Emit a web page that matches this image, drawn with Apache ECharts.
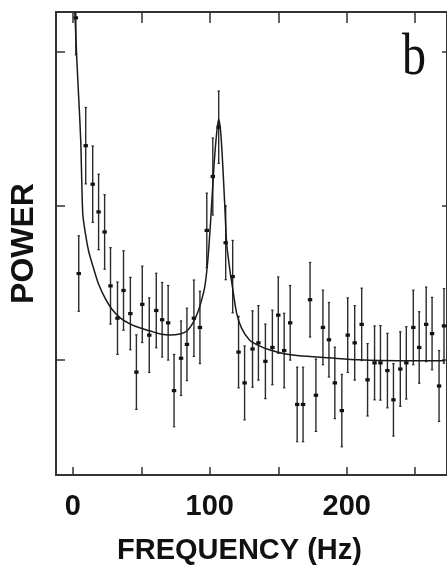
<!DOCTYPE html>
<html><head><meta charset="utf-8">
<script src="https://cdn.jsdelivr.net/npm/echarts@6/dist/echarts.min.js"></script>
<style>html,body{margin:0;padding:0;background:#fff;} #c{width:447px;height:570px;}</style>
</head><body><div id="c"></div>
<script>
// Measured power-spectrum points (frequency in Hz, power in arbitrary units)
const freq = [2.2,4.3,9.4,14.5,18.8,23.2,27.5,32.6,37.0,42.0,46.4,50.7,55.8,60.9,65.2,69.6,73.9,79.0,83.3,88.4,92.8,97.8,102.2,106.5,111.6,116.7,121.0,125.4,131.2,135.5,140.6,145.7,150.0,154.3,158.7,163.8,168.1,173.2,177.5,182.6,187.0,191.3,196.4,200.7,205.8,210.9,215.2,220.3,224.6,229.7,234.1,239.1,243.5,248.6,252.9,258.0,262.3,267.4,271.0];
const power = [3.22,1.56,2.39,2.14,1.96,1.83,1.48,1.27,1.45,1.30,0.92,1.36,1.16,1.32,1.26,1.24,0.80,1.01,1.10,1.27,1.21,1.84,2.19,2.51,1.76,1.54,1.05,0.85,1.07,1.11,0.99,1.08,1.29,1.06,1.24,0.71,0.71,1.39,0.77,1.21,1.13,0.85,0.67,1.16,1.11,1.23,0.87,0.98,0.98,0.93,0.74,0.94,0.98,1.21,1.08,1.23,1.17,0.83,1.22];
const powerErr = [0.24,0.245,0.248,0.248,0.245,0.242,0.248,0.235,0.258,0.235,0.242,0.248,0.242,0.242,0.242,0.242,0.235,0.242,0.235,0.248,0.235,0.242,0.25,0.235,0.24,0.235,0.232,0.24,0.248,0.242,0.242,0.242,0.248,0.242,0.242,0.242,0.242,0.242,0.235,0.242,0.242,0.232,0.235,0.242,0.242,0.235,0.235,0.24,0.242,0.242,0.235,0.242,0.235,0.242,0.232,0.242,0.235,0.23,0.242];
// Fitted model curve
const fitFreq = [1.45,2.9,4.35,5.8,7.25,9.42,11.59,14.49,18.84,23.91,28.99,34.78,42.03,49.28,56.52,63.77,71.01,78.26,83.33,87.68,91.3,94.2,96.38,98.55,100.72,102.9,105.07,106.52,107.97,109.42,110.87,112.32,114.49,116.67,119.57,123.19,128.99,136.23,143.48,154.35,165.22,186.96,208.7,237.68,271.74];
const fitPower = [3.258,2.948,2.69,2.413,1.948,1.806,1.703,1.613,1.49,1.394,1.323,1.271,1.232,1.206,1.187,1.168,1.161,1.168,1.187,1.239,1.31,1.394,1.477,1.645,1.916,2.239,2.477,2.561,2.477,2.271,2.013,1.755,1.594,1.465,1.303,1.206,1.129,1.09,1.065,1.039,1.026,1.013,1.0,0.994,0.994];
const xTicks = [0,50,100,150,200,250];
const xLabels = [0,100,200];
const yTicks = [1,2,3];

const chart = echarts.init(document.getElementById('c'), null, {renderer:'canvas'});
const axisCol = '#333';
const labelFont = 'Liberation Sans';
chart.setOption({
  animation:false,
  backgroundColor:'#fff',
  grid:{left:55, top:12, right:-2, bottom:92, containLabel:false},
  xAxis:[{
    type:'value', position:'bottom', min:-12.3, max:273.2,
    axisLine:{show:true, onZero:false, lineStyle:{color:axisCol, width:2}},
    axisTick:{show:true, inside:true, length:8, customValues:xTicks, lineStyle:{color:axisCol, width:1.5}},
    axisLabel:{show:true, customValues:xLabels, margin:17, color:'#111', fontFamily:labelFont, fontWeight:'bold', fontSize:29},
    splitLine:{show:false},
    name:'FREQUENCY (Hz)', nameLocation:'middle', nameGap:61,
    nameTextStyle:{color:'#111', fontFamily:labelFont, fontWeight:'bold', fontSize:29, padding:[0,24,0,0]}
  },{
    type:'value', position:'top', min:-12.3, max:273.2,
    axisLine:{show:true, onZero:false, lineStyle:{color:axisCol, width:2}},
    axisTick:{show:true, inside:true, length:11, customValues:xTicks, lineStyle:{color:axisCol, width:1.5}},
    axisLabel:{show:false}, splitLine:{show:false}
  }],
  yAxis:[{
    type:'value', position:'left', min:0.252, max:3.258,
    axisLine:{show:true, onZero:false, lineStyle:{color:axisCol, width:2}},
    axisTick:{show:true, inside:true, length:9, customValues:yTicks, lineStyle:{color:axisCol, width:1.5}},
    axisLabel:{show:false}, splitLine:{show:false},
    name:'POWER', nameLocation:'middle', nameGap:16,
    nameTextStyle:{color:'#111', fontFamily:labelFont, fontWeight:'bold', fontSize:32}
  },{
    type:'value', position:'right', min:0.252, max:3.258,
    axisLine:{show:true, onZero:false, lineStyle:{color:axisCol, width:2}},
    axisTick:{show:true, inside:true, length:5, customValues:yTicks, lineStyle:{color:axisCol, width:1.5}},
    axisLabel:{show:false}, splitLine:{show:false}
  }],
  graphic:[{
    type:'text', x:402, y:28, scaleY:1.25,
    style:{text:'b', font:'normal 48px "Liberation Serif"', fill:'#111', verticalAlign:'top'}
  }],
  series:[{
    type:'custom', xAxisIndex:0, yAxisIndex:0, clip:true,
    data: freq.map((f,i)=>[f, power[i], powerErr[i]]),
    encode:{x:0, y:1},
    renderItem:function(params, api){
      const x = api.value(0), y = api.value(1), e = api.value(2);
      const t = api.coord([x, y+e]), b = api.coord([x, y-e]), c = api.coord([x, y]);
      return {type:'group', children:[
        {type:'line', shape:{x1:t[0], y1:t[1], x2:b[0], y2:b[1]}, style:{stroke:'#2b2b2b', lineWidth:1.4}},
        {type:'line', shape:{x1:t[0]-1.2, y1:t[1], x2:t[0]+1.2, y2:t[1]}, style:{stroke:'#2b2b2b', lineWidth:1.2}},
        {type:'line', shape:{x1:b[0]-1.2, y1:b[1], x2:b[0]+1.2, y2:b[1]}, style:{stroke:'#2b2b2b', lineWidth:1.2}},
        {type:'rect', shape:{x:c[0]-2.2, y:c[1]-1.6, width:4.4, height:3.2}, style:{fill:'#111'}}
      ]};
    }
  },{
    type:'line', xAxisIndex:0, yAxisIndex:0,
    data: fitFreq.map((f,i)=>[f, fitPower[i]]),
    showSymbol:false, smooth:0.25, clip:true,
    lineStyle:{color:'#1a1a1a', width:1.5}
  }]
});
</script></body></html>
